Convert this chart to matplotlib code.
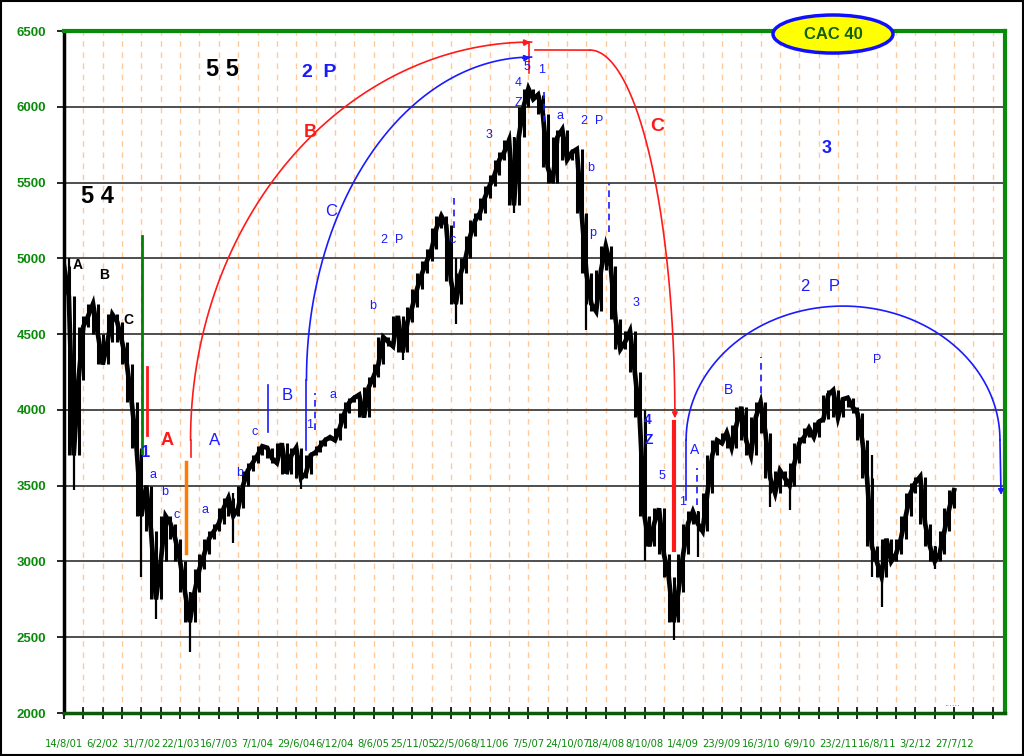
import numpy as np
import matplotlib
matplotlib.use("Agg")
import matplotlib.pyplot as plt
from matplotlib.patches import Ellipse
from matplotlib import font_manager as fm

# ---------------- data ----------------
date_labels = ["14/8/01", "6/2/02", "31/7/02", "22/1/03", "16/7/03", "7/1/04",
               "29/6/04", "6/12/04", "8/6/05", "25/11/05", "22/5/06", "8/11/06",
               "7/5/07", "24/10/07", "18/4/08", "8/10/08", "1/4/09", "23/9/09",
               "16/3/10", "6/9/10", "23/2/11", "16/8/11", "3/2/12", "27/7/12"]

# CAC 40 level, one sample every quarter of an axis tick (~3 weeks)
close = [4950, 4750, 3700, 4200, 4550, 4620, 4700, 4500, 4300, 4450,
         4630, 4580, 4450, 4300, 4050, 3750, 3300, 3500, 3200, 2750,
         3000, 3300, 3250, 3150, 3000, 2800, 2600, 2800, 2950, 3050,
         3150, 3200, 3250, 3350, 3420, 3300, 3350, 3500, 3600, 3650,
         3700, 3760, 3750, 3680, 3650, 3780, 3580, 3700, 3750, 3550,
         3580, 3700, 3720, 3760, 3800, 3820, 3800, 3880, 3980, 4050,
         4080, 4100, 3950, 4150, 4220, 4300, 4480, 4450, 4420, 4620,
         4380, 4580, 4680, 4800, 4900, 4980, 5060, 5200, 5280, 5220,
         4850, 4700, 4900, 5000, 5150, 5250, 5300, 5400, 5480, 5550,
         5650, 5700, 5780, 5350, 5800, 6000, 6120, 6050, 6080, 5950,
         5600, 5500, 5800, 5850, 5650, 5700, 5720, 5300, 4900, 4700,
         4650, 4920, 5080, 4950, 4600, 4400, 4450, 4520, 4250, 3950,
         3300, 3100, 3250, 3350, 3050, 2900, 2600, 2800, 3050, 3250,
         3330, 3250, 3200, 3450, 3700, 3800, 3780, 3850, 3750, 3900,
         4020, 3800, 3700, 3950, 4050, 3850, 3550, 3450, 3600, 3550,
         3500, 3650, 3780, 3820, 3880, 3820, 3920, 3940, 4100, 4130,
         3950, 4070, 4080, 4020, 3980, 3800, 3550, 3100, 3000, 2900,
         3150, 3000, 3050, 3150, 3300, 3450, 3520, 3560, 3250, 3100,
         3000, 3050, 3200, 3350, 3470]

# daily extremes that stick out of the band
spike_idx = [1, 2, 16, 19, 26, 35, 49, 70, 81, 93, 108, 120, 126, 131, 146, 150, 167, 169, 180]
spike_lo = [4700, 3470, 2900, 2620, 2400, 3120, 3480, 4330, 4570, 5300, 4530, 3000, 2480, 3030, 3360, 3340, 2900, 2700, 2950]
spike_hi = [5000, 4000, 3600, 3000, 2800, 3450, 3700, 4600, 5000, 5800, 5100, 4000, 2800, 3330, 3650, 3600, 3700, 3100, 3100]

yticks = [2000, 2500, 3000, 3500, 4000, 4500, 5000, 5500, 6000, 6500]

# ---------------- figure ----------------
GREEN = "#0a8a0a"
BLUE = "#1a1aff"
RED = "#ff1a1a"

fig = plt.figure(figsize=(10.24, 7.56), dpi=100)
fig.patch.set_facecolor("white")
ax = fig.add_axes([64 / 1024, 1 - 713 / 756, (1005 - 64) / 1024, (713 - 31) / 756])

n_ticks = 48
ax.set_xlim(0, 48.63)
ax.set_ylim(2000, 6500)

# grid
for t in range(1, n_ticks + 1):
    ax.axvline(t, color="#ffc99a", lw=1.0, ls=(0, (4, 4)), zorder=0)
for v in yticks[1:-1]:
    ax.axhline(v, color="#404040", lw=1.3, zorder=1)

# price series (thick band of daily bars)
xs = np.arange(len(close)) * 0.25
c = np.array(close, dtype=float)
lo = np.minimum(np.minimum(c, np.roll(c, 1)), np.roll(c, -1))
hi = np.maximum(np.maximum(c, np.roll(c, 1)), np.roll(c, -1))
lo[0], hi[0] = min(c[0], c[1]), max(c[0], c[1])
lo[-1], hi[-1] = min(c[-1], c[-2]), max(c[-1], c[-2])
ax.vlines(xs, lo, hi, color="black", lw=2.2, zorder=3)
ax.plot(xs, close, color="black", lw=3.4, zorder=3, solid_joinstyle="miter")
ax.vlines(np.array(spike_idx) * 0.25, spike_lo, spike_hi, color="black", lw=1.6, zorder=3)

# axes styling
ax.set_yticks(yticks)
ax.set_yticklabels([str(v) for v in yticks], color=GREEN, fontweight="bold",
                   fontsize=9.5, family=["Liberation Sans", "DejaVu Sans"])

# narrow font for the crowded date labels, if one is installed
narrow = None
for f in fm.fontManager.ttflist:
    if f.name == "Liberation Sans Narrow" and f.weight in (400, "normal", "regular"):
        narrow = ("Liberation Sans Narrow", "normal", 8.6)
        break
if narrow is None:
    for f in fm.fontManager.ttflist:
        if f.name == "DejaVu Sans" and str(f.stretch) in ("condensed", "semi-condensed"):
            narrow = ("DejaVu Sans", "condensed", 8.0)
            break
if narrow is None:
    narrow = ("Liberation Sans", "normal", 7.6)

ax.set_xticks(range(0, n_ticks + 1))
lbls = []
for t in range(0, n_ticks + 1):
    lbls.append(date_labels[t // 2] if (t % 2 == 0 and t // 2 < len(date_labels)) else "")
ax.set_xticklabels(lbls, color=GREEN, fontsize=narrow[2], family=narrow[0],
                   fontstretch=narrow[1])
ax.tick_params(axis="x", direction="inout", length=8, width=1.2, pad=15, colors="black",
               labelcolor=GREEN)
ax.tick_params(axis="y", direction="out", length=5, width=1.2, pad=8, colors="black",
               labelcolor=GREEN)
for s in ["top", "right"]:
    ax.spines[s].set_color(GREEN)
    ax.spines[s].set_linewidth(3)
ax.spines["left"].set_color("black")
ax.spines["left"].set_linewidth(2.5)
ax.spines["bottom"].set_color("#0a5a0a")
ax.spines["bottom"].set_linewidth(2.5)

# ---------------- wave annotations ----------------
# vertical markers
ax.plot([4.03, 4.03], [3716, 5147], color="#008000", lw=2, zorder=4)
ax.plot([4.29, 4.29], [3834, 4283], color=RED, lw=2, zorder=4)
ax.plot([6.30, 6.30], [3056, 3656], color="#ff7a00", lw=2.5, zorder=4)
ax.plot([31.52, 31.52], [3076, 3920], color=RED, lw=3, zorder=4)

# red arc B (2003 -> 2007)
t = np.linspace(np.pi, np.pi / 2, 200)
cx, cy, a, b = 24.16, 3801, 17.62, 2626
ax.plot(cx + a * np.cos(t), cy + b * np.sin(t), color=RED, lw=1.2, zorder=4)
ax.plot([cx - a, cx - a], [3689, cy], color=RED, lw=1.2, zorder=4)
ax.annotate("", xy=(cx + 0.1, cy + b), xytext=(cx - 0.6, cy + b - 5),
            arrowprops=dict(arrowstyle="-|>", color=RED, lw=1.2, mutation_scale=9), zorder=5)
ax.plot([24.03, 24.03], [6223, 6427], color=RED, lw=1.2, zorder=4)

# blue arc C
cx, cy, a, b = 24.16, 4197, 11.63, 2131
ax.plot(cx + a * np.cos(t), cy + b * np.sin(t), color=BLUE, lw=1.2, zorder=4)
ax.plot([cx - a, cx - a], [3735, cy], color=BLUE, lw=1.2, zorder=4)
ax.annotate("", xy=(cx + 0.1, cy + b), xytext=(cx - 0.6, cy + b - 10),
            arrowprops=dict(arrowstyle="-|>", color=BLUE, lw=1.2, mutation_scale=9), zorder=5)

# red C down-leg
ax.plot([24.34, 27.18], [6375, 6374], color=RED, lw=1.2, zorder=4)
t2 = np.linspace(np.pi / 2, 0, 200)
cx, cy, a, b = 27.18, 3966, 4.39, 2408
ax.plot(cx + a * np.cos(t2), cy + b * np.sin(t2), color=RED, lw=1.2, zorder=4)
ax.annotate("", xy=(cx + a, cy - 40), xytext=(cx + a, cy + 60),
            arrowprops=dict(arrowstyle="-|>", color=RED, lw=1.2, mutation_scale=8), zorder=5)

# blue arc 2 P (2009 -> 2013)
t3 = np.linspace(np.pi, 0, 300)
cx, cy, a, b = 40.26, 3801, 8.11, 884
ax.plot(cx + a * np.cos(t3), cy + b * np.sin(t3), color=BLUE, lw=1.2, zorder=4)
ax.plot([cx - a, cx - a], [3406, cy], color=BLUE, lw=1.2, zorder=4)
ax.plot([cx + a, cx + a + 0.05], [cy, 3470], color=BLUE, lw=1.2, zorder=4)
ax.annotate("", xy=(cx + a + 0.07, 3420), xytext=(cx + a + 0.05, 3480),
            arrowprops=dict(arrowstyle="-|>", color=BLUE, lw=1.2, mutation_scale=8), zorder=5)

# small blue tick lines
ax.plot([10.54, 10.54], [3854, 4164], color=BLUE, lw=1.2, zorder=4)
for xx, y0, y1 in [(12.97, 3867, 4111), (20.16, 5200, 5398), (28.17, 5174, 5497),
                   (32.71, 3373, 3617), (36.02, 4111, 4349), (24.80, 5900, 6120)]:
    ax.plot([xx, xx], [y0, y1], color=BLUE, lw=1.2, ls=(0, (4, 3)), zorder=4)

AR = ["Liberation Sans", "DejaVu Sans"]

def txt(x, y, s, color=BLUE, size=9, bold=False):
    ax.text(x, y, s, color=color, fontsize=size, fontweight="bold" if bold else "normal",
            ha="center", va="center", family=AR, zorder=6)

# big labels
txt(1.71, 5405, "5 4", "black", 17, True)
txt(8.17, 6243, "5 5", "black", 17, True)
txt(13.18, 6223, "2  P", BLUE, 14, True)
txt(12.71, 5827, "B", RED, 13, True)
txt(30.65, 5867, "C", RED, 14, True)
txt(39.43, 5728, "3", BLUE, 13, True)
txt(5.32, 3801, "A", RED, 13, True)
txt(4.24, 3722, "1", BLUE, 12, True)
txt(30.18, 3933, "4", BLUE, 10, True)
txt(30.23, 3801, "Z", BLUE, 10, True)

# black ABC
txt(0.72, 4956, "A", "black", 10, True)
txt(2.07, 4890, "B", "black", 10, True)
txt(3.31, 4593, "C", "black", 10, True)

# blue medium
txt(13.80, 5306, "C", BLUE, 12)
txt(7.80, 3801, "A", BLUE, 12)
txt(11.52, 4098, "B", BLUE, 12)
txt(39.07, 4811, "2    P", BLUE, 12)
txt(32.61, 3735, "A", BLUE, 10)
txt(34.32, 4131, "B", BLUE, 10)
txt(42.02, 4329, "P", BLUE, 9)

# blue small
for x, y, s in [(9.87, 3854, "c"), (9.10, 3584, "b"), (7.29, 3340, "a"),
                (4.60, 3571, "a"), (5.22, 3458, "b"), (5.84, 3307, "c"),
                (12.71, 3900, "1"), (13.90, 4098, "a"), (15.97, 4686, "b"),
                (16.95, 5121, "2  P"), (20.10, 5121, "c"), (21.96, 5814, "3"),
                (23.46, 6157, "4"), (23.93, 6262, "5"), (23.51, 6025, "Z"),
                (24.70, 6243, "1"), (25.63, 5939, "a"), (27.30, 5906, "2  P"),
                (27.24, 5596, "b"), (27.34, 5167, "p"), (29.56, 4705, "3"),
                (30.90, 3564, "5"), (31.99, 3392, "1")]:
    txt(x, y, s, BLUE, 9)

# little green dots at bottom right
ax.text(45.9, 2060, "......", color="#00a000", fontsize=6, ha="center", va="center")

# CAC 40 badge
ell = Ellipse((39.74, 6480), 6.2, 251, facecolor="#ffff00", edgecolor="#1010ff",
              lw=2.5, clip_on=False, zorder=7)
ax.add_patch(ell)
ax.text(39.74, 6480, "CAC 40", color="#106010", fontsize=12, fontweight="bold",
        ha="center", va="center", family=AR, zorder=8, clip_on=False)

# outer frame
fig.add_artist(plt.Rectangle((0.001, 0.001), 0.998, 0.998, transform=fig.transFigure,
                             fill=False, edgecolor="black", lw=1.5))

fig.savefig("out.png", dpi=100)
